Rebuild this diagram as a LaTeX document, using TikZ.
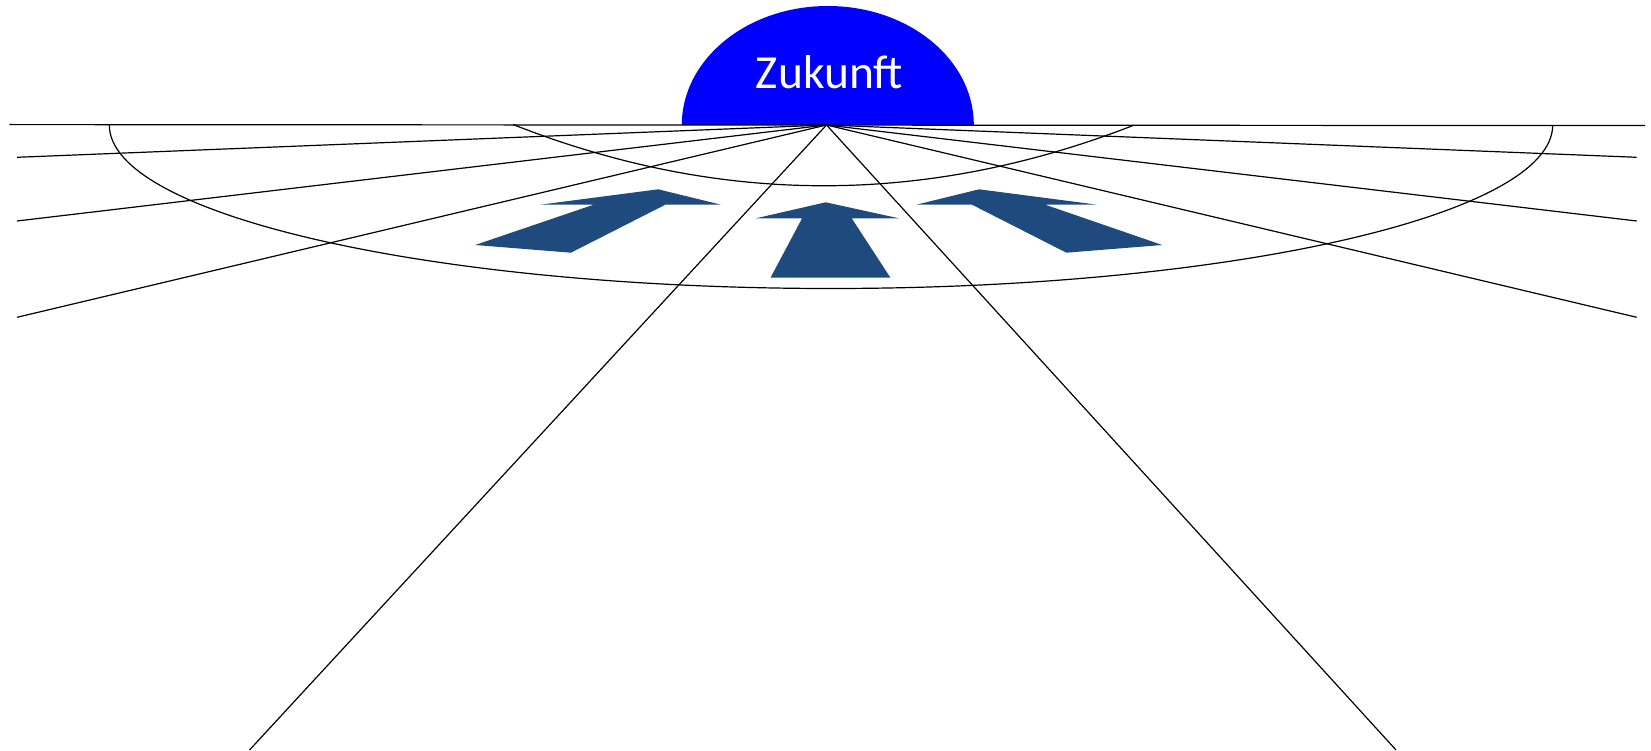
\documentclass[tikz,border=0pt]{standalone}
\usepackage{fontspec}
\setmainfont{Carlito}
\definecolor{arrowblue}{HTML}{1F4A7D}
\begin{document}
\begin{tikzpicture}[x=1pt,y=-1pt,
  ray/.style={line width=1.2pt,black},
  curve/.style={line width=1.2pt,black},
  bigarrow/.style={fill=arrowblue,draw=none}]
\useasboundingbox (0,0) rectangle (1651,751);
% sun
\fill[blue] (681.8,125) arc[start angle=180,end angle=0,x radius=146pt,y radius=119pt] -- cycle;
\node[anchor=base,text=white,inner sep=0pt,font=\fontsize{47.5}{52}\selectfont] (sun) at (829.5,88.3) {Zukunft};
% vanishing point and ray ends
\coordinate (V) at (826.5,125);
\coordinate (HL) at (9.3,124.6);
\coordinate (HR) at (1645,125.6);
\coordinate (L1) at (17,157.3);
\coordinate (L2) at (17,221);
\coordinate (L3) at (17,317.3);
\coordinate (R1) at (1636.7,157.3);
\coordinate (R2) at (1636.7,221);
\coordinate (R3) at (1636.7,317.3);
\coordinate (B1) at (249.5,750);
\coordinate (B2) at (1396,750);
\draw[ray] (HL) -- (HR);
\foreach \e in {L1,L2,L3,R1,R2,R3,B1,B2} \draw[ray] (V) -- (\e);
% small arc
\coordinate (SA) at (513.3,124.6);
\coordinate (SB) at (1133.3,125.4);
\draw[curve] (SA) .. controls (719.7,206) and (926.3,206) .. (SB);
% big half ellipse
\draw[curve] (109.3,125) arc[start angle=180,end angle=360,x radius=721.7pt,y radius=163.5pt];
% arrows
\fill[bigarrow] (658.2,189.3) -- (721,204.7) -- (665.3,204.7) -- (570.9,252.7) -- (475.1,245) -- (593.6,204.7) -- (540.2,204.7) -- cycle;
\fill[bigarrow] (825.7,202.3) -- (898.9,218.3) -- (851.7,218.3) -- (890.4,277.7) -- (770.5,277.7) -- (802.1,218.3) -- (755.9,218.3) -- cycle;
\fill[bigarrow] (979.1,189.3) -- (916.3,204.7) -- (972,204.7) -- (1066.4,252.7) -- (1162.2,245) -- (1045.2,204.7) -- (1097.1,204.7) -- cycle;
\end{tikzpicture}
\end{document}
